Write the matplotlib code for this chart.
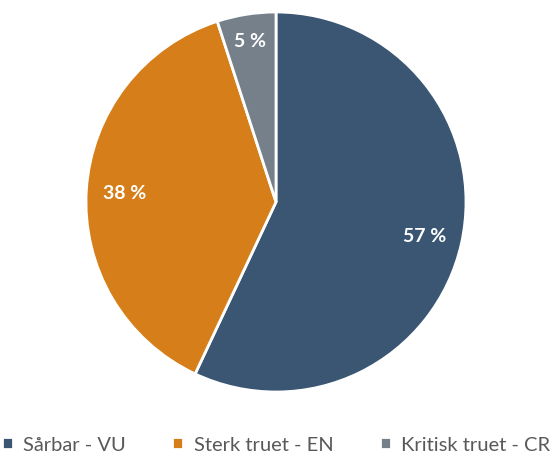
import numpy as np
import matplotlib.pyplot as plt

labels = ["Sårbar - VU", "Sterk truet - EN", "Kritisk truet - CR"]
values = [57, 38, 5]
colors = ["#3A5673", "#D67F1A", "#75808A"]

plt.rcParams['font.family'] = ['Lato', 'DejaVu Sans']

fig = plt.figure(figsize=(5.52, 4.6), dpi=100)
ax = fig.add_axes([86 / 552, 67 / 460, 380 / 552, 380 / 460])

wedges, texts, autotexts = ax.pie(
    values, colors=colors, startangle=90, counterclock=False,
    autopct=lambda p: f"{p:.0f} %", pctdistance=0.8, radius=1,
    wedgeprops=dict(edgecolor="white", linewidth=2),
    textprops=dict(color="white", fontsize=14, fontweight="bold"))

# push the small slice label a bit further out
w = wedges[2]
ang = np.deg2rad((w.theta1 + w.theta2) / 2)
autotexts[2].set_position((0.86 * np.cos(ang), 0.86 * np.sin(ang)))

ax.set_xlim(-1, 1)
ax.set_ylim(-1, 1)
ax.set_aspect("equal")

fig.legend(wedges, labels, loc="center", bbox_to_anchor=(0.5, 1 - 446 / 460),
           ncol=3, frameon=False, fontsize=14.5, handlelength=0.55, handleheight=0.55,
           handletextpad=0.5, columnspacing=2.3, labelcolor="#595959")

fig.savefig("out.png", dpi=100)
